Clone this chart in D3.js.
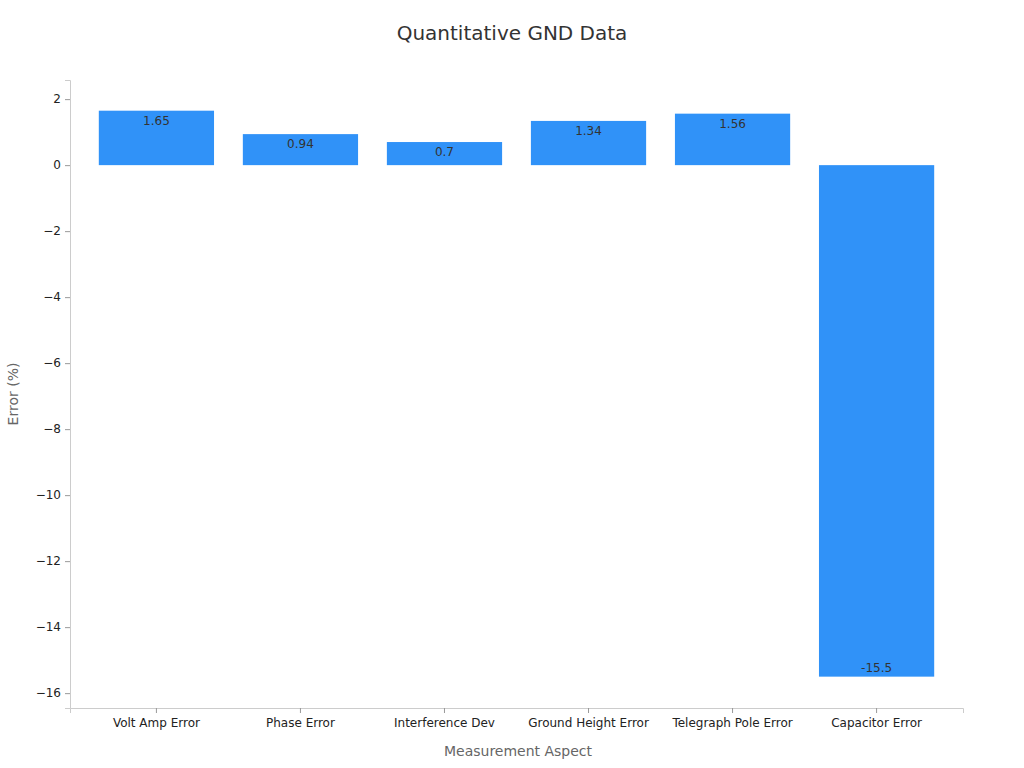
<!DOCTYPE html>
<html><head><meta charset="utf-8">
<script src="https://cdn.jsdelivr.net/npm/d3@7"></script>
<style>body{margin:0;background:#fff;font-family:"DejaVu Sans",sans-serif}</style>
</head><body><svg id="c" width="1024" height="768"></svg>
<script>
const categories = ['Volt Amp Error', 'Phase Error', 'Interference Dev', 'Ground Height Error', 'Telegraph Pole Error', 'Capacitor Error'];
const values = [1.65, 0.94, 0.7, 1.34, 1.56, -15.5];
const yTicks = [2, 0, -2, -4, -6, -8, -10, -12, -14, -16];

const svg = d3.select('#c');
const mLeft = 70, mRight = 963, mTop = 80, mBottom = 708;

const x = d3.scaleBand().domain(categories).range([mLeft, mRight]).padding(0.2);
const y = d3.scaleLinear().domain([-16.45, 2.58]).range([mBottom, mTop]);

svg.append('text').attr('x', 512).attr('y', 40).attr('text-anchor', 'middle')
  .attr('font-size', 20).attr('fill', '#333').text('Quantitative GND Data');

svg.append('g').selectAll('rect').data(values).join('rect')
  .attr('x', (d, i) => x(categories[i]))
  .attr('width', x.bandwidth())
  .attr('y', d => y(Math.max(0, d)))
  .attr('height', d => Math.abs(y(d) - y(0)))
  .attr('fill', '#3092f8');

svg.append('g').selectAll('text').data(values).join('text')
  .attr('x', (d, i) => x(categories[i]) + x.bandwidth() / 2)
  .attr('y', d => d >= 0 ? y(d) + 14 : y(d) - 5)
  .attr('text-anchor', 'middle').attr('font-size', 12).attr('fill', '#333')
  .text(d => d);

const yAxis = svg.append('g').attr('transform', `translate(${mLeft},0)`)
  .call(d3.axisLeft(y).tickValues(yTicks).tickSize(5).tickPadding(4).tickFormat(d => String(d).replace('-', '−')));
const xAxis = svg.append('g').attr('transform', `translate(0,${mBottom})`)
  .call(d3.axisBottom(x).tickSize(5).tickPadding(5));
[yAxis, xAxis].forEach(a => {
  a.select('.domain').attr('stroke', '#ccc');
  a.selectAll('.tick line').attr('stroke', '#999');
  a.selectAll('.tick text').attr('font-size', 12).attr('fill', '#222').attr('font-family', '"DejaVu Sans",sans-serif');
});

svg.append('text').attr('x', 518).attr('y', 756).attr('text-anchor', 'middle')
  .attr('font-size', 14).attr('fill', '#666').text('Measurement Aspect');
svg.append('text').attr('transform', 'translate(18,394) rotate(-90)').attr('text-anchor', 'middle')
  .attr('font-size', 14).attr('fill', '#666').text('Error (%)');
</script></body></html>
